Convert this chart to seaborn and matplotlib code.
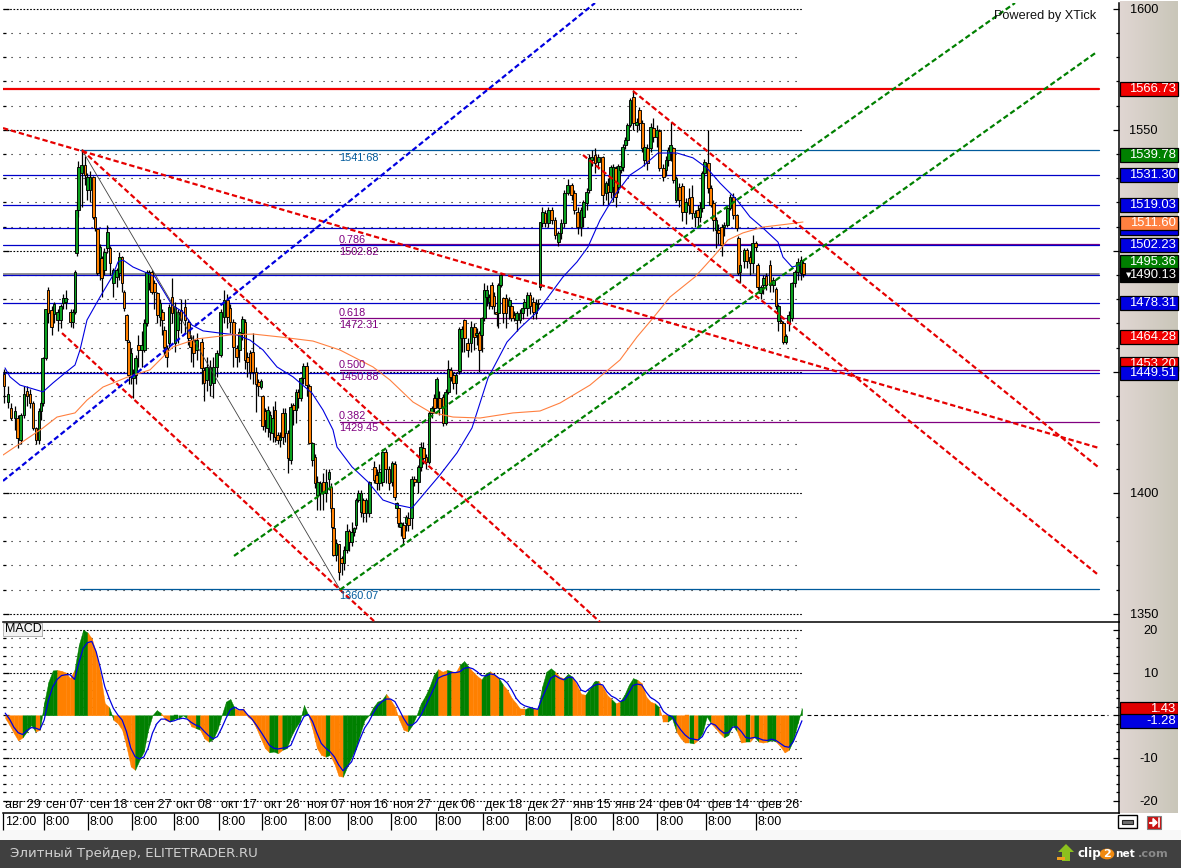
import numpy as np
import seaborn as sns
import matplotlib.pyplot as plt
from matplotlib.patches import Rectangle, Circle, Polygon
from matplotlib.lines import Line2D
from matplotlib.ticker import FixedLocator, FixedFormatter

W, H = 1181, 868

# candles: time position on the chart clock, body top/bottom, wick high/low, direction
candle_t = [4,8,11,15,17.5,20.5,24,27,30,33, 36,39,41,42.7,45.5,48,51.7,54,57.7,60.7,
            63.3,65.7,70.7,72.7,75,76.7,78.3,81.7,85,87.3, 90,93.3,95,97.3,100,101.7,104.3,107.3,110,113.3,
            116.7,119.3,122,124,126.7,128.7,131,133.3,135.7,138.3, 141.7,144.3,146.7,149,151.7,154.3,157.3,160,162.3,164.3,
            166.7,169,172,175,177.7,181,185,188.3,190.7,193.3, 196.7,201.7,204,206.7,210,213.3,216.7,220.7,224,227.3,
            230,233.3,236.7,239.3,242.3,245,247.3,250,252.7,256, 258.3,261,262.7,265,267.7,270,272.7,275,277.7,280,
            282.7,285,288.3,290.7,293.3,296,298.3,300.7,303.3,306.7, 309.3,312.3,315,317.3,320,323.3,326,329,331,332.3,
            333.3,336,339,341.7,344,346.7,349,351.7,354,356, 358.3,361,363.3,366,369.3,374.3,376.7,379.3,382.3,385.7,
            389,392.3,394.7,396.7,398.3,400.7,403.3,406,408.3,411.7, 414.3,418.3,420.7,423.3,426,429,431.7,434.3,436.7,439.3,
            443.3,445.7,448.3,450.7,453.3,456,459.3,461.7,464.3,467.7, 471,474.3,476.7,479.3,481.7,484.3,486.7,489,491.7,494,
            496.7,498.3,500.7,503.3,506,509.3,511.3,514,516.7,520, 522.7,524.3,527.3,530,533.3,536,537.7,540,542.3,545,
            548.3,551.7,555,558.3,561,564.3,567.7,571.7,574.3,577.7, 581,583.3,586.7,589.3,591.7,595,598.3,602.7,606,608.3,
            610.7,613.3,615.7,618.3,620.7,622.7,625.3,627.3,630,633.3, 636.7,639.3,642.3,644.3,647.3,650.7,653.3,656.7,659.3,663.3,
            666,668.3,670.7,673.3,676,679.3,682.3,685.7,689,691.7, 695,697.7,700,702.3,704.3,708.3,710.7,713.3,716,718.3,
            721.7,724,727.3,730,733.3,736.7,738.3,740,744,746.7, 750,752.7,755.7,757.7,760.7,763.3,766,770,773.3,776,
            778.3,781,783.3,785.7,788.7,791.7,794.7,797.7,801,803.3]
candle_top = [1449,1441,1435,1434,1431,1432,1441,1442,1441,1437, 1426.7,1434,1437,1455.6,1476,1484,1475.6,1478,1474.9,1477,
              1480.4,1480.4,1474.9,1474.9,1491.4,1516.9,1534.8,1535.4,1535.4,1530.6, 1530.6,1530.6,1513.8,1508.9,1501.7,1496.9,1499.6,1507.9,1501,1492,
              1492,1497.6,1497.6,1483,1473.5,1462.5,1457.6,1449,1455.6,1461, 1461,1470,1491.4,1491.4,1491.4,1486.6,1482.4,1478.3,1474.9,1467.3,
              1459.7,1476.9,1481,1476.9,1474.9,1475.6,1476.9,1470.7,1463.2,1463.2, 1463.2,1462.5,1450.7,1452,1452,1452,1457.6,1474.9,1479.7,1479.7,
              1476.2,1470.7,1459.7,1466.6,1472,1470.7,1456.3,1457.6,1458,1450, 1445.6,1446,1439.8,1433.6,1434.3,1432.2,1430.8,1434.3,1423.9,1423.2,
              1432.9,1432.9,1424.6,1435.6,1436.3,1441.8,1441.8,1447.3,1452.2,1452.4, 1444,1420.4,1414.9,1404.6,1403.9,1404.6,1404.6,1408.7,1402.5,1393.6,
              1385.3,1379.1,1378.8,1372.9,1376.3,1384.3,1384.3,1383.9,1385.3,1397, 1399.8,1399.8,1397,1397,1404.6,1410.8,1407.3,1408.7,1417,1417,
              1410,1412.4,1412,1395.6,1393.6,1387.4,1386.7,1390.1,1389.4,1405.9, 1405.9,1410.8,1419,1418.3,1414.9,1433,1434.9,1439,1446.9,1439,
              1439.7,1441.8,1451,1450.7,1448.6,1448.6,1467.6,1467.6,1471.4,1461.8, 1468.7,1468.7,1466,1465.9,1472.1,1483.8,1483.8,1481,1485.9,1481.3,
              1474.9,1485.9,1490,1480.4,1480.4,1479.7,1477,1473.5,1474.2,1474.2, 1476.2,1479,1481.8,1481.8,1479,1478.6,1478.6,1511.7,1515.9,1515.5,
              1516.9,1516.9,1512.8,1507.3,1511.4,1523.8,1527.2,1527.2,1523.8,1516.2, 1516.9,1520.3,1524.5,1538.2,1538.9,1539.6,1538.9,1538.6,1527.9,1527.2,
              1534.5,1534.5,1534.1,1535.1,1535.1,1543,1545.8,1552,1562.3,1563.7, 1553.4,1558.2,1553,1543,1542.4,1551.3,1550.6,1549.9,1549.7,1534.1,
              1537.6,1541.7,1543.7,1542.4,1530,1526.5,1526.8,1520.3,1521.7,1522.4, 1515.5,1516.9,1517.6,1532,1536.9,1536.2,1525.9,1519.6,1512.8,1508.6,
              1510,1510.7,1517.6,1522.4,1522.4,1514.8,1505.2,1494.2,1500.4,1500.4, 1497.6,1503.1,1503.1,1494.2,1485.2,1488.7,1489.4,1494.2,1488,1484.1,
              1477,1471,1470,1464.6,1473.5,1486.6,1491.4,1495.5,1496.2,1495.1]
candle_bottom = [1444,1437.7,1431,1431,1422.5,1422,1432,1440,1437,1426.7, 1422,1422,1434,1437,1455.6,1474.4,1468.7,1474,1471.4,1471.4,
                 1478.3,1479,1470.7,1470.7,1474.9,1499,1516.9,1532,1531.3,1525.1, 1525.1,1514.1,1509.3,1490.7,1490.7,1488.6,1492,1501,1495,1486.6,
                 1489.3,1490.7,1486.6,1476.2,1463.2,1448.7,1448,1447.6,1448.7,1459, 1459,1459,1470,1486.6,1483,1483,1473.5,1472.8,1471.4,1460.4,
                 1456.3,1461.8,1474.2,1461.8,1467.3,1471.4,1471.4,1463.9,1460.4,1457.6, 1459,1451.4,1445.3,1446.6,1444.6,1445.3,1452,1457,1472.8,1472.8,
                 1470.7,1460.4,1456.3,1459,1466,1454.9,1454,1450,1450,1445, 1444.3,1443.8,1427.4,1430.1,1426.7,1425.3,1424.6,1423.2,1421.9,1421.9,
                 1423.2,1424.6,1414.3,1413.6,1434.3,1434.3,1439,1439,1447.3,1444.6, 1420.4,1413.5,1403.9,1399,1399.8,1399.8,1399.8,1405.9,1393.6,1385.9,
                 1374.3,1374.3,1367.4,1370.8,1370.8,1376.3,1379.8,1379.8,1383.9,1386.7, 1397,1392.2,1391.5,1391.5,1391.5,1405.3,1403.9,1403.9,1404.6,1410,
                 1403.9,1404.6,1398.4,1393.6,1387.4,1386,1381.2,1387.4,1386.7,1389.4, 1404.6,1404.6,1410.8,1414.2,1412.8,1412.8,1432.8,1434.9,1439,1434.9,
                 1428.7,1428.7,1441.8,1447.9,1445.2,1445.2,1450.4,1463.9,1463.9,1459, 1461.8,1464.5,1465.3,1459,1465,1472.1,1481,1479,1477.2,1477.2,
                 1473.8,1474.2,1485.9,1474.2,1474.2,1477,1472.1,1472.1,1471.4,1471.4, 1474.2,1476.2,1476.2,1477,1474.9,1474.2,1477.9,1484.9,1511.4,1511.4,
                 1511.4,1512.8,1506.6,1503.8,1507.3,1511.4,1523.8,1523,1516.9,1510, 1510,1514.1,1519.6,1525.2,1537.6,1536.2,1536.9,1523,1523.8,1524.5,
                 1524.5,1526.5,1522.4,1526.5,1533.4,1534.5,1543.7,1545.8,1552,1552.7, 1552,1552.7,1542.4,1537.6,1536.2,1542.4,1547.2,1547.2,1534.1,1530.7,
                 1533.4,1537.6,1541,1529.3,1521,1521,1516.2,1516.2,1519,1515.5, 1514.1,1514.1,1514.1,1517.6,1532,1525.9,1519,1512.8,1508.6,1507.3,
                 1502.4,1510,1510.7,1517.6,1514.8,1509.3,1490.7,1491.4,1495.6,1495.6, 1494.9,1494.9,1501.7,1485.2,1482.5,1485.9,1485.9,1485.9,1485.9,1477,
                 1470.8,1470,1462.5,1462.5,1470,1472.1,1486.6,1491.4,1490.7,1490.5]
candle_high = [1451,1444,1437,1436,1432,1433,1444,1444,1443,1438, 1427,1435,1438,1456,1476,1485,1477,1479,1476,1478,
               1482,1484,1476,1476,1492,1520,1537,1542,1539,1532, 1533,1531,1514,1509,1503,1498,1501,1510.6,1502,1493,
               1493,1499.6,1498,1484,1474,1463,1460,1451,1457,1465, 1467,1472,1492,1492,1492,1488,1483,1480,1476,1469,
               1461,1478,1488.6,1479,1476,1480,1480,1472,1465,1465, 1466,1464,1452,1456,1455,1456,1459,1476,1484,1482,
               1478,1472,1461,1468,1473,1472,1458,1459,1466,1452, 1447,1447,1440.5,1435,1436,1434,1436,1438,1425,1425,
               1435,1435,1426,1437,1437,1443,1443,1448,1453.5,1454, 1445,1421,1416,1407,1405,1408,1410,1410,1404,1394,
               1386,1381,1379,1374,1378,1387,1385,1388,1386,1398, 1401,1401,1398,1398,1405,1413,1410,1412,1418,1418,
               1411,1413,1413,1396,1394,1388,1388,1391,1392,1407, 1407,1411.5,1421,1421,1416,1434,1436,1441,1448,1442,
               1441,1443,1455,1452,1450,1450,1468.5,1469,1472,1464, 1471,1470,1468,1467,1472.5,1486.5,1486,1482,1487,1483,
               1476,1486.5,1491,1481,1482,1481,1478,1475,1475,1476, 1478,1480,1483,1483,1481,1480,1480,1512,1518,1517,
               1518,1518,1514,1508,1513,1525,1529.5,1528,1525,1518, 1518,1521,1526,1540,1541.6,1542.5,1540,1539,1529,1530,
               1535.5,1536,1535,1536,1537,1544,1547,1553,1563,1566.5, 1555,1559.5,1554,1544,1544,1553,1555,1552,1550.5,1536,
               1539,1543,1553.4,1543,1531,1528,1528,1522,1526,1527, 1517,1519,1520,1533,1538,1550,1527,1521,1514,1511,
               1511,1512,1518,1523.5,1524,1515,1506,1495,1501,1501, 1500,1506.6,1504,1495,1486,1490,1491,1496.2,1489,1485,
               1478,1472,1471,1465.5,1475,1487,1492,1497,1498,1496]
candle_low = [1437,1435,1430,1426,1418.5,1420,1431,1436,1435,1426, 1420,1420,1430,1436,1455,1470,1465,1470,1467,1468,
              1476,1476,1468.6,1468,1474,1498,1514,1518,1527,1521, 1520,1513,1508,1490,1488,1481,1490,1499,1490,1481,
              1485,1488,1483,1475,1462,1445,1445,1439,1445,1452, 1452,1458,1469,1484,1482,1476,1470,1469,1465,1457,
              1452,1460,1470,1458,1462,1466,1466,1461,1454,1452, 1455,1445,1438,1442,1440,1439,1448,1456,1470,1468,
              1466,1452,1452,1454,1463,1451,1448,1447,1445,1433.5, 1440,1442.8,1426,1425,1423,1422,1421,1421,1420,1419,
              1420,1421,1408,1412,1428,1429,1435,1438,1445,1440, 1420,1411,1402,1393,1393,1393,1396,1401,1392,1385,
              1374,1372,1363.9,1366,1368,1375,1376,1378,1382,1385, 1396,1390,1388,1388,1390,1404,1401,1401,1403,1404,
              1401,1403,1397,1390,1386,1382,1378.5,1384,1384,1385, 1403,1400,1409,1412,1410,1412,1431,1433,1435,1432,
              1427.6,1428,1441,1446,1443,1441,1449,1458,1458,1456, 1458,1459,1461,1450,1458,1471,1477,1476,1476,1474,
              1469,1468,1485,1470,1468,1472,1471,1471,1467,1470, 1472,1475,1473,1474,1472,1472,1476,1484,1510,1510,
              1510,1511,1505,1502,1505,1510,1523,1521,1515,1507, 1506,1510,1517,1524,1535,1532,1534,1519,1521,1519,
              1522,1520,1518,1524,1532,1533,1542,1544,1551,1550, 1549,1550,1541,1535,1533.5,1541,1545,1543,1533,1529,
              1531,1535,1537,1528,1520,1518,1512.5,1511,1515,1513, 1510,1510,1512,1516,1530,1524,1518,1508,1501,1503,
              1498,1506,1510,1517,1513,1508,1490,1486.6,1493,1493, 1490,1491,1500,1484,1480,1482,1484,1483,1483,1476,
              1467,1470,1461.5,1461.5,1467,1471,1485,1488,1488,1489]
candle_dir = ("OGOGOGGOOO" "OGGGGOOGGG" "GGOGGGGGOG" "GOOOGOGGOG" "GGOOOOGGGO" "GGGGOOOGOO"
              "OGOGGOOOOO" "GOOGGGGGGO" "OOOGGOOOOO" "OGOOGGGOOG" "OGOGOGOGGO" "OGOGGOGGOO"
              "OGOOGGOGGG" "GGOGGOOGGO" "OGOGOGOGOG" "OGGOOGGOGO" "OGGOOGGGOO" "GOGOGGGGOO"
              "OGGOOGOOGG" "GGGOOGGGGO" "GOOGGGGOOO" "GGGGGOGOGO" "GGOGGGGGGO" "GOOGOGOGOO"
              "GGGOGOOGOO" "GOGGGOOOGO" "OGGGOOOGGO" "OGOOGGOOGO" "GOOGGGGGGO")

# moving averages
ma_blue_t = [5,10,20,30,43,53,65,75,80,87,100,112,118,123,133,147,155,163,172,183,192,203,220,237,250,263,277,293,312,323,
             333,337,352,368,383,397,412,423,440,457,472,488,507,520,537,563,577,588,600,615,630,642,658,677,693,707,720,737,
             750,763,778,783,792,800]
ma_blue = [1451.6,1447.9,1444.5,1443.3,1441.7,1445.4,1449.5,1452.8,1459,1471.4,1480.9,1489.2,1495.4,1496.2,1493.3,1490.8,
           1489.2,1483.8,1477.6,1474.7,1469.3,1466.9,1466,1465.2,1463.1,1459,1452,1447.9,1441.2,1434.2,1426,1418.9,1410.7,
           1404.5,1397,1395,1393.7,1399.1,1407.4,1416.5,1426.8,1447.4,1462.3,1468.1,1474.7,1489.2,1495.4,1501.6,1512.7,
           1523.1,1531.3,1534.6,1540.4,1540.4,1538.4,1534.2,1528,1521,1514,1509.4,1503.6,1497.4,1493.3,1494.1]
ma_orange_t = [3,43,57,75,87,103,128,150,173,197,230,253,280,313,340,373,390,413,430,453,480,513,540,560,590,620,637,653,
               670,695,713,728,743,763,787,803]
ma_orange = [1415.6,1426.8,1431.3,1433,1438.3,1443.7,1447.9,1450.8,1460.3,1463.6,1465.2,1465.6,1464.4,1462.7,1459,1452,
             1446.6,1437.5,1433.4,1431.3,1430.9,1433,1433.8,1437.1,1444.5,1454.9,1464.4,1472.2,1480.9,1489.2,1497.4,
             1504.5,1507.4,1509.8,1511,1511.9]

# horizontal levels
level_price = [1566.73,1541.68,1531.30,1519.03,1509.37,1502.82,1502.23,1490.5,1490.13,1478.31,1472.31,1450.88,1449.51,1429.45,1360.07]
level_start = [3,80,3,3,3,340,3,3,3,3,340,340,3,340,80]
level_color = ['#f00000','#005a9c','#0000c8','#0000c8','#0000c8','#800080','#0000c8','#808080','#0000c8','#0000c8',
               '#800080','#800080','#0000c8','#800080','#005a9c']
level_width = [1.6,0.9,0.9,0.9,0.9,0.9,0.9,1.2,0.9,0.9,0.9,0.9,0.9,0.9,0.9]

# fibonacci and level captions
fib_text = ['1541.68','0.786','1502.82','0.618','1472.31','0.500','1450.88','0.382','1429.45','1360.07']
fib_price = [1538.4,1504.5,1499.6,1474.5,1469.4,1453,1447.7,1431.7,1426.7,1357.4]
fib_color = ['#005a9c','#800080','#800080','#800080','#800080','#800080','#800080','#800080','#800080','#005a9c']

# trend lines as (t, price) end points
red_t = [[3,1099],[82,600],[62,375],[633,1098],[583,1097]]
red_p = [[1550.7,1418.5],[1541.6,1346.6],[1466,1346.6],[1566,1410.7],[1539.6,1366.5]]
blue_t = [3,595]
blue_p = [1404.9,1602.4]
green_t = [[234,1015],[340,1097]]
green_p = [[1373.9,1602.4],[1359.9,1582.2]]
swing_t = [82,340]
swing_p = [1541.68,1360.07]

# right hand price boxes, drawn in this order
box_value = [1566.73,1539.78,1531.30,1519.03,1509.37,1511.60,1502.23,1495.36,1490.13,1478.31,1464.28,1453.20,1449.51]
box_color = ['#f00000','#008000','#0000e0','#0000e0','#0000e0','#ff8040','#0000e0','#008000','#000000','#0000e0','#f00000','#f00000','#0000e0']

# macd histogram and signal, one value per step
macd_hist = [-0.7,-2.3,-4.2,-5.9,-5.2,-3.8,-2.3,-3.8,-3.4,3,7.9,10.5,10.6,10.4,10,8.7,10.6,16.5,20,19.4,18,14.5,9.5,2.8,1.9,
             -1.1,-1.9,-3.4,-7.3,-12,-12.8,-10.5,-8.5,-3.4,0,1.2,0.5,-1.1,-1.5,-0.9,-0.9,0,-0.7,-2.6,-3,-3.4,-5.4,-6.2,-5.6,-3.4,
             0,3.2,3.8,1.6,1.2,1.6,-0.3,-1.1,-3,-5.4,-7.7,-8.7,-8.5,-8.9,-8.1,-7.7,-5,-3,-1.5,2.4,0,-3.4,-7.7,-9.3,-9.7,-9.3,
             -11.3,-14.2,-14.4,-12,-9.7,-7.7,-4.2,-1.1,0,1.9,3.2,3.6,5,3.6,2,-1.1,-3.4,-3.8,-2.3,0,2.8,4.5,6.7,9.5,10.8,10.2,
             10.6,10.4,10,11.8,12.7,11.4,10.2,9.2,8.4,9.8,10.3,9.5,8.7,7.1,5.9,4,2.8,1.4,1.4,1.9,1.6,1.4,6.7,10.2,11,10.2,9,8.7,
             9.7,9,7.1,5,4.8,6.3,7.9,8.1,6.7,4.8,3.8,2.8,3.2,4.8,7.1,8.7,8.3,7.5,4.4,3.2,2.8,1.9,-1.5,-1.5,-0.7,-3.8,-5.4,-6.4,
             -6.4,-6.6,-5.8,-4.2,-0.3,-1.9,-3,-4.2,-5.2,-4.6,-2.3,-3.8,-6.4,-6.2,-6.2,-5,-6.2,-6.4,-6.2,-5.8,-6.2,-7.3,-8.7,-8.1,
             -5.8,-1.9,1.6]
macd_dir = ("OOOO GGG O GGGG OOOO GGG OOOOO G OOOOO GGGGGG OO GGGG OO G OO GGGGGG OOOOOOOO GG O GGGGGG OOOO G OOO "
            "GGGGGGGGGG OOOOO GGGGGGG OO G OO GG OOO GG OO G OOOOO GG O GGGG OO GG OOO GGG OOO G O GGGG OOOO G OO GG "
            "OOO G O GGG OOO GGG OO G O G OO GG OOO GGGG").replace(" ", "")
macd_signal = [0.5,-0.9,-2.8,-4.1,-4.5,-3.6,-2.9,-3,-3.4,-1.1,3.6,6.7,8.4,9.3,9.5,9.5,8.4,12.2,15.7,17,17.3,14.9,11,6.7,4,1.6,
               0.1,-1.1,-3.8,-7.7,-9.7,-10.2,-9.8,-7.7,-4.2,-2,-0.9,-0.9,-1.5,-1.3,-0.9,-0.7,-0.9,-1.7,-2.3,-2.7,-3.8,-4.8,-5.5,-5,
               -3,-0.7,1.3,1.9,1.3,1.3,0.1,-0.9,-2.3,-3.8,-5.4,-7,-7.7,-7.9,-7.7,-7.6,-7,-4.6,-2.3,-0.3,0.2,-1.5,-4.2,-6.6,-7.7,-8.5,
               -9.7,-11.6,-13,-12,-10.9,-8.1,-5.4,-3,-1.5,0.5,2.2,3.2,3.8,3.8,3.2,1.3,-0.7,-2.3,-2.3,-1.5,0,2,4.2,6.3,8.7,9.2,9.5,10,
               10,10.2,11,11.2,10.9,10.2,9.3,9.2,9.7,9.5,8.7,8.4,7.5,5.9,4,2.8,2.2,1.9,1.6,1.4,4,6.3,8.7,9.3,8.7,8.3,8.9,8.9,7.7,5.9,
               5.5,6.3,7,7.3,7.1,5.5,4.5,4,3.2,3.6,5.2,7,7.3,7.1,5.5,4.2,3.6,2.8,0.9,0.1,-0.3,-1.9,-3.4,-4.6,-5.4,-5.6,-5.8,-5,-3,
               -1.9,-2.3,-3.4,-4.2,-4.1,-2.8,-2.7,-3.8,-5.2,-5.4,-5.2,-5.4,-5.8,-5.9,-5.6,-5.9,-6.6,-7.3,-7.5,-6.2,-3.8,-1.3]
macd_box_value = [1.43,-1.28]
macd_box_color = ['#e00000','#0000e0']

# axis labels
tick_t = [3,44,88,132,174,219,262,305,348,391,436,483,526,571,613,657,706,756]
date_labels = ['авг 29','сен 07','сен 18','сен 27','окт 08','окт 17','окт 26','ноя 07','ноя 16','ноя 27',
               'дек 06','дек 18','дек 27','янв 15','янв 24','фев 04','фев 14','фев 26']
time_labels = ['12:00'] + ['8:00'] * 17
price_major = [1350,1400,1450,1500,1550,1600]
price_major_text = ['1350','1400','','','1550','1600']
macd_major = [-20,-10,0,10,20]
macd_major_text = ['-20','-10','','10','20']

sns.set_style("white")
plt.rcParams['font.family'] = ['Liberation Sans', 'DejaVu Sans']


def px_axes(fig, left, top, right, bottom, **kws):
    return fig.add_axes([left / W, 1 - bottom / H, (right - left) / W, (bottom - top) / H], **kws)


def line(ax, xs, ys, color, lw, ls='-', z=4):
    sns.lineplot(x=xs, y=ys, ax=ax, color=color, lw=lw, linestyle=ls, estimator=None, sort=False, zorder=z)


def fig_rect(fig, left, top, right, bottom, **kws):
    fig.add_artist(Rectangle((left / W, 1 - bottom / H), (right - left) / W, (bottom - top) / H,
                             transform=fig.transFigure, **kws))


def fig_text(fig, x, y, s, **kws):
    fig.text(x / W, 1 - y / H, s, va='center', **kws)


DOTS = (0, (1, 6.2))
DASHDOT = (0, (1.5, 1.5))
TREND = (0, (2.4, 1.3))
CANDLE_G = '#0aa01e'
CANDLE_O = '#ff8000'

fig = plt.figure(figsize=(W / 100, H / 100), dpi=100, facecolor='white')

# price axes
ax = px_axes(fig, 3, 3, 1119, 622, zorder=3)
ax.set_xlim(3, 1119)
ax.set_ylim(1346.6, 1602.4)

for p in range(1350, 1601, 10):
    ax.hlines(p, 3, 803, color='black', lw=0.8, linestyle=DASHDOT if p % 50 == 0 else DOTS, zorder=1)

for p, s, c, w in zip(level_price, level_start, level_color, level_width):
    line(ax, [s, 1099], [p, p], c, w, z=2)

# candles
colors = [CANDLE_G if d == 'G' else CANDLE_O for d in candle_dir]
ax.vlines(candle_t, candle_low, candle_high, color='black', lw=0.9, zorder=3)
ax.bar(candle_t, np.array(candle_top) - np.array(candle_bottom), bottom=candle_bottom, width=2.7,
       color=colors, edgecolor='black', linewidth=0.65, zorder=3.2)

line(ax, ma_blue_t, ma_blue, '#0000e0', 0.8)
line(ax, ma_orange_t, ma_orange, '#ff8040', 0.8)
line(ax, swing_t, swing_p, '#404040', 0.6)

for xs, ys in zip(red_t, red_p):
    line(ax, xs, ys, '#e60000', 1.6, TREND, z=5)
line(ax, blue_t, blue_p, '#0000e0', 1.6, TREND, z=5)
for xs, ys in zip(green_t, green_p):
    line(ax, xs, ys, '#008000', 1.6, TREND, z=5)

for s, p, c in zip(fib_text, fib_price, fib_color):
    ax.text(339, p, s, color=c, fontsize=7.8, va='center', ha='left', zorder=6)

ax.text(994, 1597, 'Powered by XTick', fontsize=9.2, color='#111111', va='center', ha='left', zorder=6)

ax.yaxis.set_major_locator(FixedLocator(price_major))
ax.yaxis.set_major_formatter(FixedFormatter(price_major_text))
ax.yaxis.set_minor_locator(FixedLocator(list(range(1350, 1601, 10))))

# macd axes
mx = px_axes(fig, 3, 622, 1119, 813, zorder=3)
mx.set_xlim(3, 1119)
mx.set_ylim(-22.9, 21.85)

for v in range(-20, 21, 2):
    if v != 0:
        mx.hlines(v, 3, 803, color='black', lw=0.8, linestyle=DASHDOT if v % 10 == 0 else DOTS, zorder=1)
mx.hlines(0, 807, 1108, color='black', lw=0.8, linestyle=(0, (3.5, 2.5)), zorder=1)

macd_t = 5.2 + 4.33 * np.arange(len(macd_hist))
for i, d in enumerate(macd_dir):
    # each step fills up to the next value, so the outline stays smooth
    c = '#008000' if d == 'G' else '#ff8000'
    mx.fill_between(macd_t[i:i + 2], macd_hist[i:i + 2], 0, color=c, linewidth=0.3, zorder=2)
line(mx, macd_t, macd_signal, '#0000e0', 0.9)

mx.yaxis.set_major_locator(FixedLocator(macd_major))
mx.yaxis.set_major_formatter(FixedFormatter(macd_major_text))
mx.yaxis.set_minor_locator(FixedLocator(list(range(-20, 21, 2))))

mx.set_xticks(tick_t)
mx.set_xticklabels([])
mx.tick_params(axis='x', bottom=True, direction='out', length=12.3, width=0.9, color='black')
for t, d, h in zip(tick_t, date_labels, time_labels):
    mx.text(t + 2, 0.04, d, transform=mx.get_xaxis_transform(), fontsize=9, va='center', ha='left', color='black')
    mx.text(t + 2, -0.047, h, transform=mx.get_xaxis_transform(), fontsize=9, va='center', ha='left',
            color='black', clip_on=False)

for a in (ax, mx):
    a.set_xlabel('')
    a.set_ylabel('')
    a.patch.set_alpha(0)
    sns.despine(ax=a, top=True, left=True, right=False, bottom=False)
    a.spines['right'].set_linewidth(1.1)
    a.spines['bottom'].set_linewidth(1.1)
    a.spines['right'].set_color('black')
    a.spines['bottom'].set_color('black')
    a.yaxis.tick_right()
    a.tick_params(axis='y', which='major', right=True, left=True, direction='in', length=4.4, width=0.9,
                  color='black', pad=28, labelsize=9.2, labelcolor='black')
    a.tick_params(axis='y', which='minor', right=True, left=True, direction='in', length=2.2, width=0.9, color='black')
    for lab in a.get_yticklabels():
        lab.set_ha('right')
ax.set_xticks([])

# right hand panel
panel = px_axes(fig, 1120, 1, 1178, 813, zorder=1)
panel.imshow(np.linspace(0, 1, 64)[None, :, None] * (np.array([201, 198, 185]) - np.array([224, 214, 210]))[None, None, :] / 255
             + np.array([224, 214, 210])[None, None, :] / 255, aspect='auto')
panel.set_axis_off()

box_ax = px_axes(fig, 1120, 3, 1178, 622, zorder=2)
box_ax.set_xlim(0, 1)
box_ax.set_ylim(1346.6, 1602.4)
box_ax.set_axis_off()
for i, (v, c) in enumerate(zip(box_value, box_color)):
    box_ax.barh(v, 1, height=5.8, color=c, edgecolor='black', linewidth=0.9, zorder=i + 2, clip_on=False)
    box_ax.text(0.96, v, f'{v:.2f}', color='white', fontsize=9.4, ha='right', va='center', zorder=i + 2)
box_ax.text(0.1, 1490.13, '▼', color='white', fontsize=5, ha='left', va='center', zorder=30, family='DejaVu Sans')

macd_box = px_axes(fig, 1120, 622, 1178, 813, zorder=2)
macd_box.set_xlim(0, 1)
macd_box.set_ylim(-22.9, 21.85)
macd_box.set_axis_off()
for i, (v, c) in enumerate(zip(macd_box_value, macd_box_color)):
    macd_box.barh(v, 1, height=3.3, color=c, edgecolor='black', linewidth=0.9, zorder=i + 2)
    macd_box.text(0.96, v, f'{v:.2f}', color='white', fontsize=9.4, ha='right', va='center', zorder=i + 2)

# macd button
fig_rect(fig, 4, 624, 43, 637, facecolor='#8c8c8c', edgecolor='none', zorder=6)
fig_rect(fig, 3, 623, 42, 636, facecolor='#f2f2f2', edgecolor='#b0b0b0', linewidth=0.6, zorder=7)
fig_text(fig, 5, 629.5, 'MACD', fontsize=9, color='black', zorder=8)

# toolbar icons
fig_rect(fig, 1118, 815, 1137, 828, facecolor='white', edgecolor='black', linewidth=1.0, zorder=6)
fig_rect(fig, 1122, 820, 1133, 824, facecolor='#707070', edgecolor='#222222', linewidth=0.8, zorder=7)
fig_rect(fig, 1147, 816, 1161, 829, facecolor='#c81414', edgecolor='#808080', linewidth=0.8, zorder=6)
fig.add_artist(Line2D([1149.5 / W, 1156 / W], [1 - 822.5 / H] * 2, color='white', lw=1.6, zorder=7))
fig.add_artist(Polygon([[1153 / W, 1 - 818.5 / H], [1157 / W, 1 - 822.5 / H], [1153 / W, 1 - 826.5 / H]],
                       closed=True, transform=fig.transFigure, color='white', zorder=7))
fig.add_artist(Line2D([1158.5 / W, 1158.5 / W], [1 - 818 / H, 1 - 827 / H], color='white', lw=1.2, zorder=7))

# footer
fig_rect(fig, 0, 830, W, 840, facecolor='#f8f8f8', edgecolor='none', zorder=0)
fig_rect(fig, 0, 840, W, H, facecolor='#404040', edgecolor='none', zorder=0)
fig_text(fig, 10, 854, 'Элитный Трейдер, ELITETRADER.RU', fontsize=9.6, color='#d0d0d0', family='DejaVu Sans')
fig.add_artist(Polygon([[1066 / W, 1 - 844 / H], [1074 / W, 1 - 852 / H], [1070 / W, 1 - 852 / H], [1070 / W, 1 - 861 / H],
                        [1062 / W, 1 - 861 / H], [1062 / W, 1 - 852 / H], [1058 / W, 1 - 852 / H]],
                       closed=True, transform=fig.transFigure, facecolor='#8cc01e', edgecolor='none', zorder=2))
fig_rect(fig, 1057, 857, 1065, 860, facecolor='#f0a020', edgecolor='none', zorder=3)
fig_text(fig, 1077, 854, 'clip', fontsize=8.6, color='white', weight='bold', family='DejaVu Sans', zorder=3)
fig.add_artist(Circle((1107 / W, 1 - 854 / H), 0.0062, transform=fig.transFigure, facecolor='#f08a10', edgecolor='none', zorder=3))
fig_text(fig, 1103.5, 854, '2', fontsize=8, color='white', weight='bold', family='DejaVu Sans', zorder=4)
fig_text(fig, 1115, 854, 'net', fontsize=7.6, color='white', weight='bold', family='DejaVu Sans', zorder=3)
fig_text(fig, 1138, 854, '.com', fontsize=8.2, color='#8a8a8a', weight='bold', family='DejaVu Sans', zorder=3)

plt.savefig('out.png', dpi=100)
